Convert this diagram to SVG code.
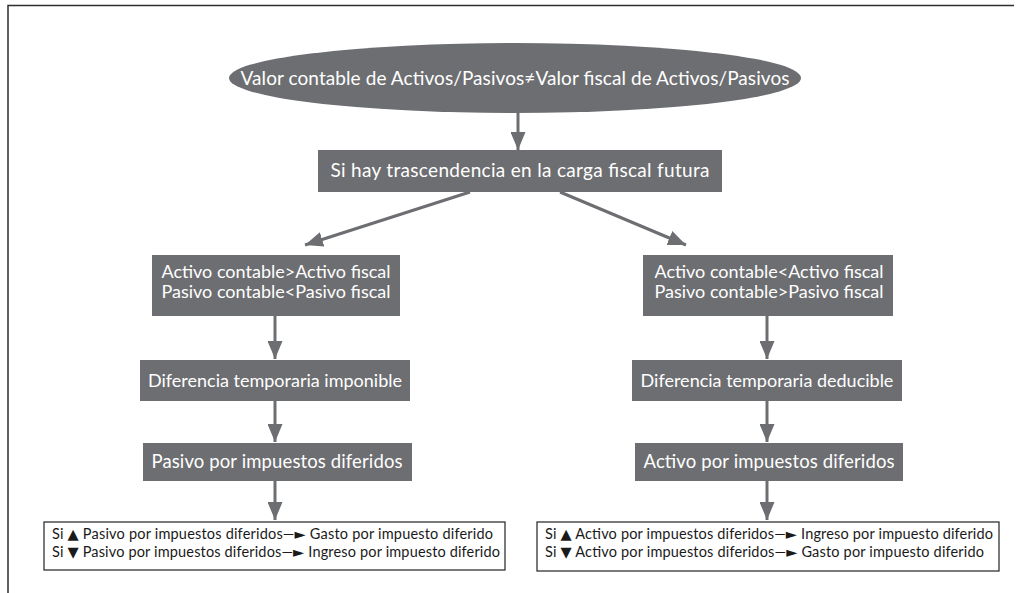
<svg xmlns="http://www.w3.org/2000/svg" width="1016" height="593" viewBox="0 0 1016 593">
<style>
.box{fill:#6d6e71}
.t{font-family:Lato,"Open Sans","Liberation Sans",sans-serif;fill:#ffffff;text-anchor:middle}
.s{font-family:Lato,"DejaVu Sans","Liberation Sans",sans-serif;fill:#1a1a1a;font-size:14.5px}
.frame{fill:none;stroke:#2e2e2e;stroke-width:1.5}
.c{stroke:#6d6e71;stroke-width:3;fill:none;marker-end:url(#ah)}
.nb{fill:#ffffff;stroke:#222222;stroke-width:1.2}
</style>
<defs>
<marker id="ah" viewBox="0 0 18 15" refX="18" refY="7.5" markerWidth="18" markerHeight="15" markerUnits="userSpaceOnUse" orient="auto">
<path d="M0,0 L18,7.5 L0,15 z" fill="#6d6e71"/>
</marker>
</defs>
<rect width="1016" height="593" fill="#ffffff"/>
<path class="frame" d="M8,593 L8,5.5 L1014,5.5"/>
<g id="n-top">
<ellipse class="box" cx="515" cy="78" rx="286" ry="35"/>
<text class="t" x="515" y="85" font-size="19" textLength="549">Valor contable de Activos/Pasivos≠Valor fiscal de Activos/Pasivos</text>
</g>
<g id="n-trasc">
<rect class="box" x="318" y="150" width="404" height="42"/>
<text class="t" x="520" y="177" font-size="19" textLength="379">Si hay trascendencia en la carga fiscal futura</text>
</g>
<g id="n-l1">
<rect class="box" x="152" y="255" width="248" height="61"/>
<text class="t" x="276" y="278" font-size="18">Activo contable&gt;Activo fiscal</text>
<text class="t" x="276" y="298" font-size="18">Pasivo contable&lt;Pasivo fiscal</text>
</g>
<g id="n-r1">
<rect class="box" x="643" y="255" width="250" height="61"/>
<text class="t" x="769" y="278" font-size="18">Activo contable&lt;Activo fiscal</text>
<text class="t" x="769" y="298" font-size="18">Pasivo contable&gt;Pasivo fiscal</text>
</g>
<g id="n-l2">
<rect class="box" x="140" y="360" width="270" height="41"/>
<text class="t" x="275" y="387" font-size="18">Diferencia temporaria imponible</text>
</g>
<g id="n-r2">
<rect class="box" x="632" y="360" width="270" height="41"/>
<text class="t" x="767" y="387" font-size="18">Diferencia temporaria deducible</text>
</g>
<g id="n-l3">
<rect class="box" x="143" y="443" width="269" height="38"/>
<text class="t" x="277" y="468" font-size="18.5" textLength="251">Pasivo por impuestos diferidos</text>
</g>
<g id="n-r3">
<rect class="box" x="635" y="443" width="268" height="38"/>
<text class="t" x="769" y="468" font-size="18.5" textLength="251">Activo por impuestos diferidos</text>
</g>
<g id="n-l4">
<rect class="nb" x="44" y="522" width="461" height="48"/>
<text class="s" x="52" y="539" textLength="441">Si ▲ Pasivo por impuestos diferidos—► Gasto por impuesto diferido</text>
<text class="s" x="52" y="557" textLength="448">Si ▼ Pasivo por impuestos diferidos—► Ingreso por impuesto diferido</text>
</g>
<g id="n-r4">
<rect class="nb" x="537" y="522" width="462" height="49"/>
<text class="s" x="545" y="539" textLength="448">Si ▲ Activo por impuestos diferidos—► Ingreso por impuesto diferido</text>
<text class="s" x="545" y="557" textLength="439">Si ▼ Activo por impuestos diferidos—► Gasto por impuesto diferido</text>
</g>
<g id="connectors">
<line class="c" x1="518" y1="113" x2="518" y2="150"/>
<line class="c" x1="470" y1="192" x2="305" y2="245"/>
<line class="c" x1="560" y1="192" x2="686" y2="245"/>
<line class="c" x1="275" y1="316" x2="275" y2="359"/>
<line class="c" x1="767" y1="316" x2="767" y2="359"/>
<line class="c" x1="275" y1="401" x2="275" y2="442"/>
<line class="c" x1="767" y1="401" x2="767" y2="442"/>
<line class="c" x1="275" y1="481" x2="275" y2="520"/>
<line class="c" x1="767" y1="481" x2="767" y2="520"/>
</g>
</svg>
